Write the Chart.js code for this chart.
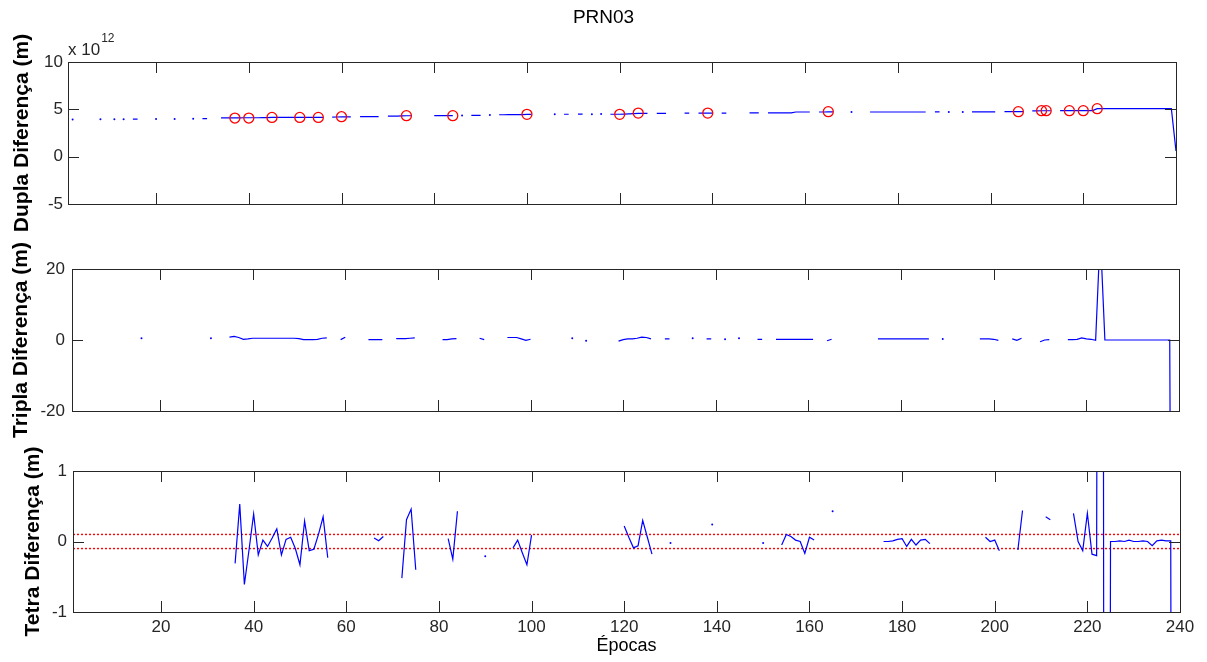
<!DOCTYPE html>
<html>
<head>
<meta charset="utf-8">
<title>PRN03</title>
<script src="https://cdn.jsdelivr.net/npm/chart.js@4.4.1/dist/chart.umd.min.js"></script>
<style>
  html, body { margin: 0; padding: 0; background: #fff; }
  #quadro { position: relative; width: 1207px; height: 662px; overflow: hidden; }
  #quadro canvas { position: absolute; left: 0; top: 0; }
</style>
</head>
<body>
<div id="quadro">
  <canvas id="dupla" width="1207" height="662"></canvas>
  <canvas id="tripla" width="1207" height="662"></canvas>
  <canvas id="tetra" width="1207" height="662"></canvas>
</div>
<script>
// ---------- DADOS ----------
const _ = null;
const titulo = "PRN03";
const rotuloX = "Épocas";
const rotuloDupla = "Dupla Diferença (m)";
const rotuloTripla = "Tripla Diferença (m)";
const rotuloTetra = "Tetra Diferença (m)";
const multiplicador = "x 10";
const expoente = "12";

const epocaMin = 1;
const epocaMax = 240;
const ticksX = [20, 40, 60, 80, 100, 120, 140, 160, 180, 200, 220, 240];
const ticksDupla = [-5, 0, 5, 10];
const ticksTripla = [-20, 0, 20];
const ticksTetra = [-1, 0, 1];

// dupla diferença, em unidades de 10^12 m (época 1 a 240)
const duplaE12 = [
  _, 3.93, _, _, _, _, _, 3.95, _, _, 3.96, _, 3.96, _, 3.97, 3.97, _, _, _, 3.98,
  _, _, _, 3.99, _, _, _, 4.00, _, 4.02, 4.02, _, _, 4.10, 4.10, 4.10, 4.10, 4.10, 4.11, 4.11,
  4.11, 4.11, 4.12, 4.12, 4.14, 4.14, 4.14, 4.14, 4.14, 4.14, 4.15, 4.15, 4.15, 4.15, 4.15, 4.15, _, 4.18, 4.19, 4.20,
  4.20, 4.21, _, 4.24, 4.24, 4.24, 4.24, 4.24, _, 4.28, 4.28, 4.29, 4.30, 4.32, 4.32, _, _, _, _, 4.33,
  4.33, 4.33, 4.33, 4.33, _, 4.35, _, 4.36, 4.36, 4.36, _, 4.40, _, 4.43, 4.43, 4.44, 4.44, 4.45, 4.45, 4.47,
  4.47, _, _, _, _, 4.47, _, 4.48, 4.48, _, 4.49, 4.49, _, 4.49, _, 4.50, _, 4.48, 4.48, 4.48,
  4.50, 4.52, 4.55, 4.58, 4.58, 4.58, _, 4.58, 4.58, 4.58, _, _, _, 4.59, 4.59, _, 4.60, 4.60, 4.60, 4.60,
  _, 4.61, 4.61, _, _, _, _, 4.62, 4.62, 4.62, _, 4.62, 4.62, 4.62, 4.62, 4.62, 4.62, 4.72, 4.72, 4.72,
  4.72, _, 4.72, 4.72, 4.73, 4.73, _, _, _, 4.72, _, _, _, 4.72, 4.72, 4.72, 4.72, 4.72, 4.72, 4.72,
  4.72, 4.72, 4.72, 4.72, 4.72, 4.72, _, 4.73, 4.73, _, 4.73, _, _, 4.73, _, 4.74, 4.74, 4.74, 4.74, 4.74,
  4.74, _, 4.76, 4.76, 4.76, 4.76, 4.76, _, 4.84, 4.84, 4.85, 4.85, 4.85, _, 4.86, 4.86, 4.86, 4.86, 4.86, 4.86,
  4.86, 4.86, 5.07, 5.07, 5.07, 5.07, 5.07, 5.07, 5.07, 5.07, 5.07, 5.07, 5.07, 5.07, 5.07, 5.07, 5.07, 5.07, 5.07, 0.60
];

// épocas marcadas com círculo vermelho (perda de ciclo)
const saltosEpocas = [37, 40, 45, 51, 55, 60, 74, 84, 100, 120, 124, 139, 165, 206, 211, 212, 217, 220, 223];
const saltosDupla = [4.08, 4.08, 4.15, 4.15, 4.15, 4.22, 4.33, 4.33, 4.47, 4.47, 4.60, 4.60, 4.75, 4.75, 4.86, 4.86, 4.86, 4.86, 5.07];

const tripla = [
  _, _, _, _, _, _, _, _, _, _, _, _, _, _, _, 0.5, _, _, _, _,
  _, _, _, _, _, _, _, _, _, _, 0.5, _, _, _, 0.8, 1.0, 0.7, 0.2, 0.3, 0.5,
  0.5, 0.5, 0.5, 0.5, 0.5, 0.5, 0.5, 0.5, 0.5, 0.4, 0.1, 0.1, 0.1, 0.2, 0.5, 0.6, _, _, 0.1, 0.8,
  _, _, _, _, 0.1, 0.1, 0.1, 0.1, _, _, 0.4, 0.4, 0.4, 0.5, 0.6, _, _, _, _, _,
  0.1, 0.1, 0.3, 0.4, _, _, _, _, 0.5, 0.1, _, _, _, _, 0.7, 0.7, 0.7, 0.3, -0.1, 0.2,
  _, _, _, _, _, _, _, _, 0.5, _, _, -0.2, _, _, _, _, _, _, -0.3, 0.1,
  0.3, 0.3, 0.5, 0.8, 0.7, 0.3, _, _, 0.3, 0.3, _, _, _, _, 0.5, _, _, 0.3, 0.3, _,
  _, 0.2, _, _, 0.5, _, _, _, 0.2, 0.2, _, _, 0.2, 0.2, 0.2, 0.2, 0.2, 0.2, 0.2, 0.2,
  0.2, _, _, -0.2, 0.2, _, _, _, _, _, _, _, _, _, 0.3, 0.3, 0.3, 0.3, 0.3, 0.3,
  0.3, 0.3, 0.3, 0.3, 0.3, 0.3, _, _, 0.3, _, _, _, _, _, _, _, 0.3, 0.3, 0.3, 0.2,
  -0.1, _, _, 0.3, -0.1, 0.5, _, _, _, -0.5, 0.0, 0.1, _, _, _, 0.1, 0.1, 0.2, 0.6, 0.3,
  0.2, -0.1, 30, 0, 0, 0, 0, 0, 0, 0, 0, 0, 0, 0, 0, 0, 0, 0, -300, -300
];

const tetra = [
  _, _, _, _, _, _, _, _, _, _, _, _, _, _, _, _, _, _, _, _,
  _, _, _, _, _, _, _, _, _, _, _, _, _, _, _, -0.31, 0.53, -0.61, -0.12, 0.39,
  -0.19, 0.02, -0.07, 0.05, 0.18, -0.19, 0.03, 0.06, -0.10, -0.33, 0.29, -0.13, -0.11, 0.10, 0.35, -0.23, _, _, _, _,
  _, _, _, _, _, 0.05, 0.01, 0.07, _, _, _, -0.52, 0.31, 0.46, -0.40, _, _, _, _, _,
  _, 0.04, -0.25, 0.43, _, _, _, _, _, -0.21, _, _, _, _, _, -0.09, 0.02, -0.16, -0.33, 0.09,
  _, _, _, _, _, _, _, _, _, _, _, _, _, _, _, _, _, _, _, 0.22,
  0.06, -0.09, -0.06, 0.30, 0.06, -0.18, _, _, _, -0.02, _, _, _, _, _, _, _, _, 0.24, _,
  _, _, _, _, _, _, _, _, _, -0.02, _, _, _, -0.05, 0.10, 0.07, 0.02, 0.00, -0.17, 0.06,
  0.02, _, _, _, 0.43, _, _, _, _, _, _, _, _, _, _, 0.00, 0.00, 0.01, 0.03, 0.04,
  -0.07, 0.03, -0.05, 0.02, 0.03, -0.03, _, _, _, _, _, _, _, _, _, _, _, 0.06, 0.00, 0.02,
  -0.13, _, _, _, -0.12, 0.44, _, _, _, _, 0.35, 0.31, _, _, _, _, 0.40, 0.00, -0.13, 0.40,
  -0.18, -0.20, 30, -30, 0.00, 0.00, 0.01, 0.00, 0.02, 0.00, 0.00, 0.01, 0.00, -0.06, 0.01, 0.02, 0.01, 0.01, -30, -30
];

const limiteTetra = 0.1;

// ---------- ESTILO ----------
const familia = "'Liberation Sans', Arial, Helvetica, sans-serif";
const corTexto = "#262626";
const corEixo = "#262626";
const azul = "#0000ff";
const vermelho = "rgb(255, 0, 0)";
const larguraTela = 1207;
const alturaTela = 662;
const tamTick = 11;

Chart.defaults.font.family = familia;

[duplaE12, tripla, tetra].forEach(s => {
  if (s.length !== epocaMax - epocaMin + 1) throw new Error("serie com tamanho " + s.length);
});

const pontos = serie => serie.map((v, i) => ({ x: epocaMin + i, y: v }));

// ponto isolado (sem vizinhos) vira um pontinho
function raioIsolado(ctx) {
  const d = ctx.dataset.data, i = ctx.dataIndex;
  if (!d[i] || d[i].y === null) return 0;
  const antes = i > 0 ? d[i - 1].y : null;
  const depois = i < d.length - 1 ? d[i + 1].y : null;
  return (antes === null && depois === null) ? 1 : 0;
}

// moldura estilo MATLAB, ticks para dentro
const moldura = {
  id: "moldura",
  afterDraw(chart) {
    const { ctx, chartArea: a, scales } = chart;
    ctx.save();
    ctx.strokeStyle = corEixo;
    ctx.lineWidth = 1;
    ctx.beginPath();
    scales.x.ticks.forEach(t => {
      const px = Math.round(scales.x.getPixelForValue(t.value)) + 0.5;
      ctx.moveTo(px, a.bottom); ctx.lineTo(px, a.bottom - tamTick);
      ctx.moveTo(px, a.top); ctx.lineTo(px, a.top + tamTick);
    });
    scales.y.ticks.forEach(t => {
      const py = Math.round(scales.y.getPixelForValue(t.value)) + 0.5;
      ctx.moveTo(a.left, py); ctx.lineTo(a.left + tamTick, py);
      ctx.moveTo(a.right, py); ctx.lineTo(a.right - tamTick, py);
    });
    ctx.stroke();
    ctx.strokeRect(Math.round(a.left) + 0.5, Math.round(a.top) + 0.5,
      Math.round(a.right - a.left), Math.round(a.bottom - a.top));
    ctx.restore();
  }
};

// "x 10^12" em cima do primeiro gráfico
const expoentePlugin = {
  id: "expoente",
  afterDraw(chart) {
    const { ctx, chartArea: a } = chart;
    ctx.save();
    ctx.fillStyle = corTexto;
    ctx.textBaseline = "alphabetic";
    ctx.textAlign = "left";
    ctx.font = "17px " + familia;
    ctx.fillText(multiplicador, a.left, a.top - 7);
    const w = ctx.measureText(multiplicador).width;
    ctx.font = "12px " + familia;
    ctx.fillText(expoente, a.left + w + 1, a.top - 20);
    ctx.restore();
  }
};

function opcoes(c) {
  return {
    responsive: false,
    animation: false,
    devicePixelRatio: 1,
    events: [],
    layout: { padding: { left: 0, right: 0, top: c.topo, bottom: 0 } },
    plugins: {
      legend: { display: false },
      tooltip: { enabled: false },
      title: c.comTitulo ? {
        display: true, text: titulo, color: "#000",
        font: { family: familia, size: 19, weight: "normal" },
        padding: { top: 6, bottom: 62 - 6 - 19 * 1.2 }
      } : { display: false }
    },
    scales: {
      x: {
        type: "linear", position: "bottom", min: epocaMin, max: epocaMax,
        grid: { display: false, drawTicks: false }, border: { display: false },
        ticks: { display: c.comRotuloX, color: corTexto, font: { size: 17 }, padding: 5, maxRotation: 0, autoSkip: false },
        afterBuildTicks: s => { s.ticks = ticksX.map(v => ({ value: v })); },
        afterFit: s => { s.height = alturaTela - c.base; },
        title: c.comRotuloX ? {
          display: true, text: rotuloX, color: "#000",
          font: { size: 18, weight: "normal" }, padding: { top: 0, bottom: 5 }
        } : { display: false }
      },
      y: {
        type: "linear", position: "left", min: c.ticksY[0], max: c.ticksY[c.ticksY.length - 1],
        grid: { display: false, drawTicks: false }, border: { display: false },
        ticks: { color: corTexto, font: { size: 17 }, padding: c.padTickY },
        afterBuildTicks: s => { s.ticks = c.ticksY.map(v => ({ value: v })); },
        afterFit: s => { s.width = c.esquerda; },
        title: {
          display: true, text: c.rotuloY, color: "#000",
          font: { size: 21, weight: "bold" }, padding: { top: c.padRotuloY, bottom: 0 }
        }
      },
      yDir: {
        type: "linear", position: "right", display: true,
        grid: { display: false, drawTicks: false }, border: { display: false },
        ticks: { display: false },
        afterFit: s => { s.width = larguraTela - c.direita; }
      }
    }
  };
}

// ---------- DUPLA ----------
new Chart(document.getElementById("dupla"), {
  type: "line",
  data: {
    datasets: [
      {
        data: saltosEpocas.map((e, i) => ({ x: e, y: saltosDupla[i] })),
        showLine: false, pointStyle: "circle", pointRadius: 5,
        borderColor: vermelho, backgroundColor: "rgba(255,255,255,0)",
        pointBorderColor: vermelho, pointBackgroundColor: "rgba(255,255,255,0)", pointBorderWidth: 1.3
      },
      {
        data: pontos(duplaE12), borderColor: azul, borderWidth: 1.2, spanGaps: false,
        pointRadius: raioIsolado, pointBackgroundColor: azul, pointBorderWidth: 0
      }
    ]
  },
  options: opcoes({
    comTitulo: true, comRotuloX: false, topo: 0, base: 204, esquerda: 68, direita: 1176,
    ticksY: ticksDupla, rotuloY: rotuloDupla, padTickY: 5, padRotuloY: 10
  }),
  plugins: [moldura, expoentePlugin]
});

// ---------- TRIPLA ----------
new Chart(document.getElementById("tripla"), {
  type: "line",
  data: {
    datasets: [
      {
        data: pontos(tripla), borderColor: azul, borderWidth: 1.2, spanGaps: false,
        pointRadius: raioIsolado, pointBackgroundColor: azul, pointBorderWidth: 0
      }
    ]
  },
  options: opcoes({
    comTitulo: false, comRotuloX: false, topo: 269, base: 411, esquerda: 72, direita: 1179,
    ticksY: ticksTripla, rotuloY: rotuloTripla, padTickY: 7, padRotuloY: 9
  }),
  plugins: [moldura]
});

// ---------- TETRA ----------
const linhaLimite = y => ({
  data: [{ x: epocaMin, y: y }, { x: epocaMax, y: y }],
  borderColor: vermelho, backgroundColor: vermelho, borderWidth: 1.4, borderDash: [2, 2], pointRadius: 0
});

new Chart(document.getElementById("tetra"), {
  type: "line",
  data: {
    datasets: [
      {
        data: pontos(tetra), borderColor: azul, borderWidth: 1.2, spanGaps: false,
        pointRadius: raioIsolado, pointBackgroundColor: azul, pointBorderWidth: 0
      },
      linhaLimite(limiteTetra),
      linhaLimite(-limiteTetra)
    ]
  },
  options: opcoes({
    comTitulo: false, comRotuloX: true, topo: 471, base: 612, esquerda: 73, direita: 1180,
    ticksY: ticksTetra, rotuloY: rotuloTetra, padTickY: 6, padRotuloY: 21
  }),
  plugins: [moldura]
});
</script>
</body>
</html>
